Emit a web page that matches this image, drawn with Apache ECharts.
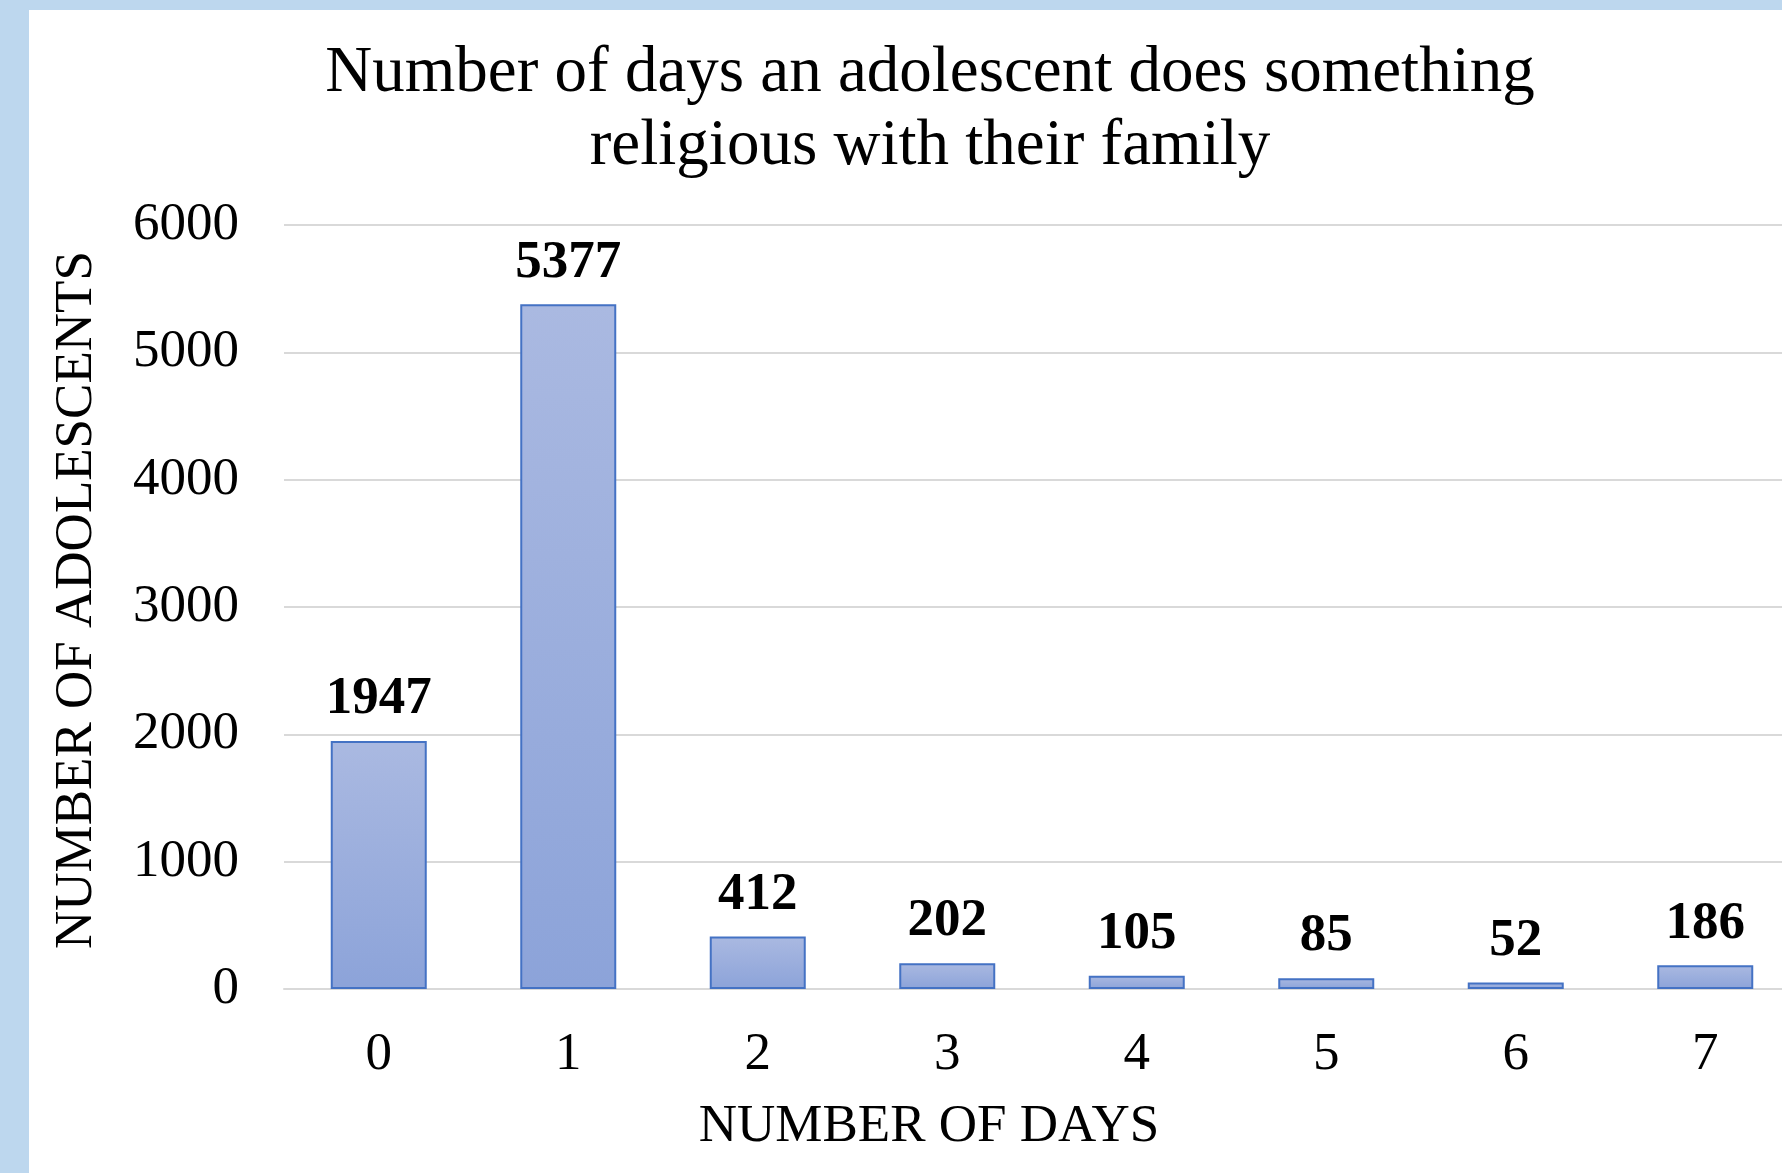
<!DOCTYPE html>
<html>
<head>
<meta charset="utf-8">
<script src="https://cdn.jsdelivr.net/npm/echarts@6/dist/echarts.min.js"></script>
<style>
  html, body { margin: 0; padding: 0; background: #BDD7EE; overflow: hidden; }
  /* the plot runs a little past the right edge, like the original */
  #chart { position: absolute; left: 29px; top: 10px; width: 1771px; height: 1163px; background: #fff; }
</style>
</head>
<body>
<div id="chart"></div>
<script>
// data
var days = ['0', '1', '2', '3', '4', '5', '6', '7'];
var counts = [1947, 5377, 412, 202, 105, 85, 52, 186];
var yTicks = [0, 1000, 2000, 3000, 4000, 5000, 6000];

var font = 'Liberation Serif, Times New Roman, serif';
var chart = echarts.init(document.getElementById('chart'));

var option = {
  animation: false,
  title: {
    text: 'Number of days an adolescent does something\nreligious with their family',
    left: 896,
    top: 22,
    textAlign: 'center',
    textStyle: {
      fontFamily: font,
      fontSize: 65,
      fontWeight: 'normal',
      color: '#000',
      lineHeight: 73
    }
  },
  grid: {
    left: 255,
    top: 215,
    width: 1516,
    height: 764,
    containLabel: false
  },
  xAxis: {
    type: 'category',
    data: days,
    name: 'NUMBER OF DAYS',
    nameLocation: 'middle',
    nameGap: 112,
    nameTextStyle: {
      fontFamily: font,
      fontSize: 53,
      color: '#000',
      padding: [0, 226, 0, 0]
    },
    axisLine: { lineStyle: { color: '#D9D9D9', width: 2 } },
    axisTick: { show: false },
    axisLabel: {
      margin: 40,
      fontFamily: font,
      fontSize: 53,
      color: '#000'
    }
  },
  yAxis: {
    type: 'value',
    min: yTicks[0],
    max: yTicks[yTicks.length - 1],
    interval: 1000,
    name: 'NUMBER OF ADOLESCENTS',
    nameLocation: 'middle',
    nameGap: 180,
    nameTextStyle: {
      fontFamily: font,
      fontSize: 53,
      color: '#000',
      padding: [0, 0, 0, 14]
    },
    axisLine: { show: false },
    axisTick: { show: false },
    axisLabel: {
      margin: 45,
      fontFamily: font,
      fontSize: 53,
      color: '#000',
      formatter: function (v) { return String(v); }
    },
    splitLine: { lineStyle: { color: '#D9D9D9', width: 2 } }
  },
  series: [{
    type: 'bar',
    data: counts,
    barWidth: 96,
    itemStyle: {
      color: new echarts.graphic.LinearGradient(0, 0, 0, 1, [
        { offset: 0, color: '#AAB9E1' },
        { offset: 1, color: '#8CA3D9' }
      ]),
      borderColor: '#4472C4',
      borderWidth: 2
    },
    label: {
      show: true,
      position: 'top',
      distance: 15,
      fontFamily: font,
      fontSize: 53,
      fontWeight: 'bold',
      color: '#000'
    }
  }]
};

chart.setOption(option);
</script>
</body>
</html>
